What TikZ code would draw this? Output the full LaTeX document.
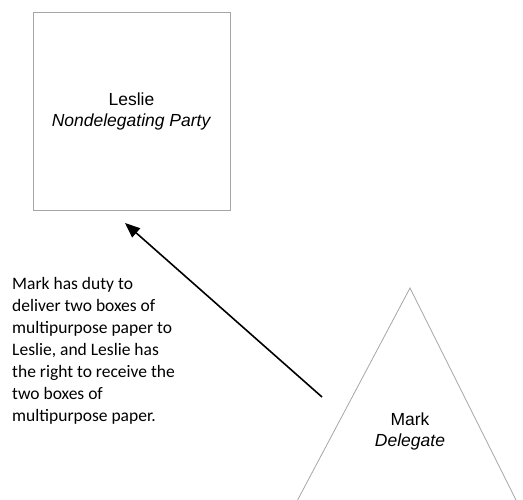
\documentclass[tikz,border=0pt]{standalone}
\usepackage{fontspec}
\setmainfont{Liberation Sans}
\newfontfamily\calibri{Carlito}
\usetikzlibrary{arrows.meta}

\begin{document}
\begin{tikzpicture}[x=1pt,y=-1pt,
    party/.style={draw=black!35, line width=0.8pt, align=center, font=\fontsize{17.5}{21}\selectfont},
    note/.style={align=left, inner sep=0pt, font=\calibri\fontsize{17.5}{22}\selectfont},
    duty/.style={line width=1.6pt, -{Triangle[length=15pt,width=12pt]}}]

\useasboundingbox (0,0) rectangle (523,500);

% ===== Leslie (square) =====
\node[party, minimum width=197, minimum height=198] (leslie) at (131.5,111)
    {Leslie\\\textit{Nondelegating Party}};

% ===== Mark (triangle, cut off at the bottom) =====
\begin{scope}
    \clip (0,0) rectangle (523,500);
    \draw[draw=black!35, line width=0.8pt] (410,288) -- (287,520) -- (526,520) -- cycle;
\end{scope}
\node[align=center, font=\fontsize{17.5}{21}\selectfont] (mark) at (410,431) {Mark\\\textit{Delegate}};

% ===== Duty / right =====
\node[note, anchor=north west] (duty) at (12,277)
    {Mark has duty to\\deliver two boxes of\\multipurpose paper to\\Leslie, and Leslie has\\the right to receive the\\two boxes of\\multipurpose paper.};

\coordinate (from) at (322,397);
\coordinate (to) at (125,223);
\draw[duty] (from) -- (to);

\end{tikzpicture}
\end{document}
